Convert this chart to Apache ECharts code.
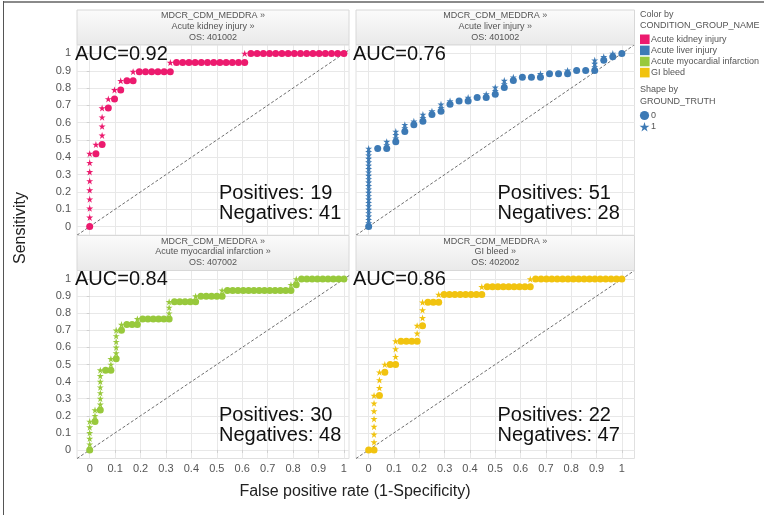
<!DOCTYPE html>
<html><head><meta charset="utf-8">
<script src="https://cdn.jsdelivr.net/npm/echarts@6/dist/echarts.min.js"></script>
<style>html,body{margin:0;padding:0;background:#fff}#c{width:764px;height:515px}</style>
</head><body><div id="c"></div>
<script>
// ---------- data ----------
const panelTitles = [
  ["MDCR_CDM_MEDDRA »", "Acute kidney injury »", "OS: 401002"],
  ["MDCR_CDM_MEDDRA »", "Acute liver injury »", "OS: 401002"],
  ["MDCR_CDM_MEDDRA »", "Acute myocardial infarction »", "OS: 407002"],
  ["MDCR_CDM_MEDDRA »", "GI bleed »", "OS: 402002"]
];
const conditionNames = ["Acute kidney injury", "Acute liver injury", "Acute myocardial infarction", "GI bleed"];
const aucLabels = ["AUC=0.92", "AUC=0.76", "AUC=0.84", "AUC=0.86"];
const positives = [19, 51, 30, 22];
const negatives = [41, 28, 48, 47];
const tickValues = [0, 0.1, 0.2, 0.3, 0.4, 0.5, 0.6, 0.7, 0.8, 0.9, 1];
const shapeLevels = ["0", "1"];

// ground truth of the cases, ordered by decreasing score (1 = positive, 0 = negative)
const kidneyTruth = [
  1,1,1,1,1,1,1,1, 0, 1, 0, 1,1,1,1, 0, 1, 0, 1, 0, 1, 0,0, 1,
  0,0,0,0,0,0, 1,
  0,0,0,0,0,0,0,0,0,0,0,0, 1,
  0,0,0,0,0,0,0,0,0,0,0,0,0,0,0,0
];
const liverTruth = [
  1,1,1,1,1,1,1,1,1,1,1,1,1,1,1,1,1,1,1,1,1,1,1,
  0, 0,1,1, 0,1,1,1, 0,1,1, 0,1, 0,1,1, 0,1, 0,1,1, 0,1, 0, 0,1, 0, 0,1,
  0,1,1, 0,1,1, 0,1, 0, 0, 0,1, 0, 0, 0,1, 0, 0, 0,1,1,1, 0,1, 0,1, 0
];
const miTruth = [
  1,1,1,1,1, 0, 1,1, 0, 1,1,1,1,1,1,1, 0,0, 1,1, 0, 1,1,1,1,1, 0, 1,
  0,0,0, 1, 0,0,0,0,0,0, 1,1,1, 0,0,0,0,0, 1, 0,0,0,0,0, 1,
  0,0,0,0,0,0,0,0,0,0,0,0,0, 1, 0, 1,
  0,0,0,0,0,0,0,0,0
];
const giTruth = [
  0, 1,1,1,1,1,1,1, 0, 1,1,1, 0, 1, 0,0, 1,1,1, 0,0,0,0, 1,1, 0, 1,1,1, 0,0,0, 1,
  0,0,0,0,0,0,0,0, 1,
  0,0,0,0,0,0,0,0,0, 1,
  0,0,0,0,0,0,0,0,0,0,0,0,0,0,0,0,0
];
const truths = [kidneyTruth, liverTruth, miTruth, giTruth];

// ---------- style ----------
const colors = ["#EC1A6E", "#3D7AB5", "#98C93C", "#F1C30F"];
const FONT = "Liberation Sans, Arial, sans-serif";
const STAR = "path://M0,-10L2.245,-3.09L9.51,-3.09L3.633,1.18L5.878,8.09L0,3.82L-5.878,8.09L-3.633,1.18L-9.51,-3.09L-2.245,-3.09Z";
const STAR_PTS = [[0,-10],[2.245,-3.09],[9.51,-3.09],[3.633,1.18],[5.878,8.09],[0,3.82],[-5.878,8.09],[-3.633,1.18],[-9.51,-3.09],[-2.245,-3.09]];
const axisMin = -0.05;
const xMax = [1.02, 1.05, 1.02, 1.05];
const yMax = 1.05;
const grids = [
  {left: 77, top: 44.8, width: 272, height: 190.4},
  {left: 356, top: 44.8, width: 278.5, height: 190.4},
  {left: 77, top: 270.5, width: 272, height: 188},
  {left: 356, top: 270.5, width: 278.5, height: 188}
];
const headers = [
  {x: 77, y: 10, w: 272, h: 34.8},
  {x: 356, y: 10, w: 278.5, h: 34.8},
  {x: 77, y: 235.5, w: 272, h: 35},
  {x: 356, y: 235.5, w: 278.5, h: 35}
];

function rocPoints(truth, P, N) {
  let tp = 0, fp = 0;
  const pts = [[0, 0, 0]];
  truth.forEach(t => {
    if (t === 1) tp++; else fp++;
    pts.push([fp / N, tp / P, t]);
  });
  return pts;
}

const chart = echarts.init(document.getElementById('c'), null, {renderer: 'canvas'});

const xAxes = [], yAxes = [], series = [], graphics = [];
grids.forEach((g, i) => {
  const bottom = i >= 2, left = i % 2 === 0;
  xAxes.push({
    type: 'value', gridIndex: i, min: axisMin, max: xMax[i],
    axisLine: {show: false},
    axisTick: {show: bottom, customValues: tickValues, length: 3, lineStyle: {color: '#d0d0d0'}},
    axisLabel: {show: bottom, customValues: tickValues, color: '#555', fontSize: 11, margin: 5, fontFamily: FONT,
      formatter: v => String(v)},
    splitLine: {show: true, lineStyle: {color: '#e8e8e8', width: 1}}
  });
  yAxes.push({
    type: 'value', gridIndex: i, min: axisMin, max: yMax,
    axisLine: {show: false},
    axisTick: {show: left, customValues: tickValues, length: 3, lineStyle: {color: '#d0d0d0'}},
    axisLabel: {show: left, customValues: tickValues, color: '#555', fontSize: 11, margin: 6, fontFamily: FONT,
      formatter: v => String(v)},
    splitLine: {show: true, lineStyle: {color: '#e8e8e8', width: 1}}
  });
  series.push({
    type: 'line', xAxisIndex: i, yAxisIndex: i, silent: true, symbol: 'none', z: 2,
    data: [[axisMin, axisMin], [Math.max(xMax[i], yMax), Math.max(xMax[i], yMax)]],
    lineStyle: {color: '#6f6f6f', width: 1, type: [3, 2]}
  });
  series.push({
    type: 'scatter', xAxisIndex: i, yAxisIndex: i, z: 3,
    name: conditionNames[i],
    data: rocPoints(truths[i], positives[i], negatives[i]),
    symbol: v => v[2] === 1 ? STAR : 'circle',
    symbolSize: v => v[2] === 1 ? 7 : 7,
    itemStyle: {color: colors[i], opacity: 1}
  });

  // facet header strip
  const h = headers[i];
  graphics.push({
    type: 'rect', shape: {x: h.x, y: h.y, width: h.w, height: h.h}, z: 10,
    style: {fill: new echarts.graphic.LinearGradient(0, 0, 0, 1, [{offset: 0, color: '#fbfbfb'}, {offset: 1, color: '#e9e9e9'}]),
      stroke: '#d8d8d8', lineWidth: 1}
  });
  graphics.push({
    type: 'text', z: 11,
    style: {x: h.x + h.w / 2, y: h.y + 16.5, text: panelTitles[i].join('\n'), align: 'center', verticalAlign: 'middle',
      fontSize: 9, lineHeight: 10.6, fill: '#555', fontFamily: FONT}
  });
  // AUC label
  graphics.push({
    type: 'text', z: 12,
    style: {x: left ? 75 : 353, y: bottom ? 279.5 : 54, text: aucLabels[i], verticalAlign: 'middle',
      fontSize: 20, fill: '#111', fontFamily: FONT}
  });
  // positives / negatives
  graphics.push({
    type: 'text', z: 12,
    style: {x: left ? 219 : 497.5, y: bottom ? 415.5 : 193.5, text: 'Positives: ' + positives[i], verticalAlign: 'middle',
      fontSize: 20, fill: '#111', fontFamily: FONT}
  });
  graphics.push({
    type: 'text', z: 12,
    style: {x: left ? 219 : 497.5, y: bottom ? 435.5 : 213.5, text: 'Negatives: ' + negatives[i], verticalAlign: 'middle',
      fontSize: 20, fill: '#111', fontFamily: FONT}
  });
});

// axis titles
graphics.push({type: 'text', z: 12, x: 21, y: 228, rotation: Math.PI / 2,
  style: {x: 0, y: 0, text: 'Sensitivity', align: 'center', verticalAlign: 'middle', fontSize: 16, fill: '#222', fontFamily: FONT}});
graphics.push({type: 'text', z: 12,
  style: {x: 355, y: 492, text: 'False positive rate (1-Specificity)', align: 'center', verticalAlign: 'middle', fontSize: 16, fill: '#222', fontFamily: FONT}});

// legend
const legendText = (x, y, t) => ({type: 'text', z: 12, style: {x: x, y: y, text: t, verticalAlign: 'middle', fontSize: 9, fill: '#555', fontFamily: FONT}});
graphics.push(legendText(640, 14.5, 'Color by'));
graphics.push(legendText(640, 26, 'CONDITION_GROUP_NAME'));
conditionNames.forEach((n, i) => {
  const cy = 39.3 + i * 11.1;
  graphics.push({type: 'rect', z: 12, shape: {x: 640, y: cy - 4.8, width: 9.6, height: 9.6}, style: {fill: colors[i]}});
  graphics.push(legendText(651, cy, n));
});
graphics.push(legendText(640, 90, 'Shape by'));
graphics.push(legendText(640, 101.5, 'GROUND_TRUTH'));
graphics.push({type: 'circle', z: 12, shape: {cx: 644.5, cy: 115.5, r: 4.6}, style: {fill: colors[1]}});
graphics.push(legendText(651, 115.5, shapeLevels[0]));
graphics.push({type: 'polygon', z: 12, shape: {points: STAR_PTS.map(p => [644.5 + p[0] * 0.52, 127.3 + p[1] * 0.52])}, style: {fill: colors[1]}});
graphics.push(legendText(651, 126.8, shapeLevels[1]));

// frame lines
graphics.push({type: 'rect', z: 12, shape: {x: 3, y: 1, width: 761, height: 2}, style: {fill: '#8a8a8a'}});
graphics.push({type: 'rect', z: 12, shape: {x: 3, y: 1, width: 1, height: 514}, style: {fill: '#555'}});

chart.setOption({
  animation: false,
  backgroundColor: '#fff',
  grid: grids.map(g => Object.assign({show: true, borderColor: '#e0e0e0', borderWidth: 1, backgroundColor: '#fff', containLabel: false}, g)),
  xAxis: xAxes,
  yAxis: yAxes,
  series: series,
  graphic: graphics
});
</script>
</body></html>
